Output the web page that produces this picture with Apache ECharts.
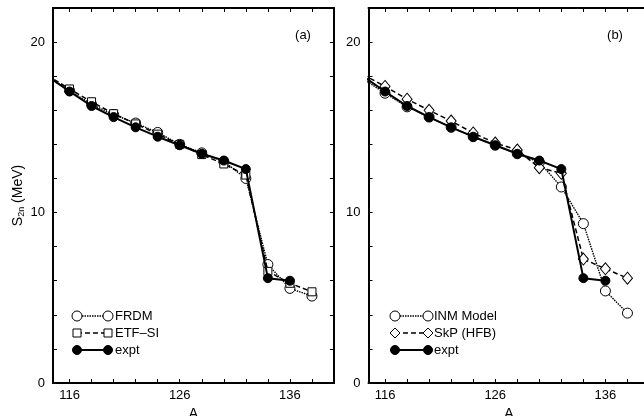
<!DOCTYPE html>
<html>
<head>
<meta charset="utf-8">
<script src="https://cdn.jsdelivr.net/npm/echarts@6/dist/echarts.min.js"></script>
<style>
html,body{margin:0;padding:0;background:#fff;}
#chart{width:644px;height:416px;}
</style>
</head>
<body>
<div id="chart"></div>
<script>
// Mass number A (even isotopes)
const massA = [114, 116, 118, 120, 122, 124, 126, 128, 130, 132, 134, 136, 138];
// Experimental S2n (MeV)
const expt  = [18.0, 17.1, 16.25, 15.6, 15.0, 14.45, 13.95, 13.45, 13.05, 12.55, 6.15, 6.0, null];
// Panel (a)
const frdm  = [17.95, 17.15, 16.35, 15.75, 15.25, 14.7, 14.0, 13.5, 13.0, 12.0, 6.95, 5.55, 5.1];
const etfsi = [18.05, 17.25, 16.5, 15.8, 15.2, 14.6, 14.0, 13.4, 12.85, 12.2, 6.55, 5.85, 5.35];
// Panel (b)
const inm   = [17.85, 17.0, 16.2, 15.6, 15.0, 14.45, 13.95, 13.45, 12.95, 11.5, 9.35, 5.4, 4.1];
const skp   = [18.1, 17.4, 16.65, 16.0, 15.37, 14.67, 14.08, 13.67, 12.63, 12.3, 7.27, 6.7, 6.15];
// Axis ticks
const xTickLabels = [116, 126, 136];
const xMinorTicks = [116, 118, 120, 122, 124, 126, 128, 130, 132, 134, 136, 138];
const yTickLabels = [0, 10, 20];

const FONT = "'Liberation Sans', Arial, Helvetica, sans-serif";
const pairs = arr => massA.map((a, i) => [a, arr[i]]);

const chart = echarts.init(document.getElementById('chart'), null, {renderer: 'canvas'});

function xAxes(gi) {
  const common = {
    type: 'value', gridIndex: gi, min: 114.5, max: 140,
    splitLine: {show: false},
    axisLine: {show: true, onZero: false, lineStyle: {color: '#000', width: 2}},
    axisTick: {show: true, inside: true, length: 4, customValues: xMinorTicks, lineStyle: {color: '#000', width: 1}}
  };
  return [
    Object.assign({}, common, {
      position: 'bottom',
      name: 'A', nameLocation: 'middle', nameGap: 19,
      nameTextStyle: {fontFamily: FONT, fontSize: 14, color: '#000'},
      axisLabel: {show: true, customValues: xTickLabels, margin: 6, fontFamily: FONT, fontSize: 13, color: '#000'}
    }),
    Object.assign({}, common, {position: 'top', axisLabel: {show: false}})
  ];
}
function yAxes(gi, withName) {
  const common = {
    type: 'value', gridIndex: gi, min: 0, max: 22, interval: 2,
    splitLine: {show: false},
    axisLine: {show: true, onZero: false, lineStyle: {color: '#000', width: 2}},
    axisTick: {show: true, inside: true, length: 4, lineStyle: {color: '#000', width: 1}}
  };
  const left = Object.assign({}, common, {
    position: 'left',
    axisLabel: {show: true, margin: 8, fontFamily: FONT, fontSize: 13, color: '#000',
      formatter: v => (yTickLabels.indexOf(v) >= 0 ? String(v) : '')}
  });
  if (withName) {
    Object.assign(left, {
      name: 'S{sub|2n} (MeV)', nameLocation: 'middle', nameGap: 27, nameRotate: 90,
      nameTextStyle: {fontFamily: FONT, fontSize: 14, color: '#000',
        rich: {sub: {fontFamily: FONT, fontSize: 9, color: '#000', verticalAlign: 'bottom', padding: [6, 0, 0, 0]}}}
    });
  }
  return [left, Object.assign({}, common, {position: 'right', axisLabel: {show: false}})];
}

const styles = {
  dotted: {lineStyle: {color: '#000', width: 1.4, type: [1.5, 1]}, symbol: 'circle', symbolSize: 10,
           itemStyle: {color: '#fff', borderColor: '#000', borderWidth: 1}},
  square: {lineStyle: {color: '#000', width: 1.5, type: [5, 3]}, symbol: 'rect', symbolSize: 8,
           itemStyle: {color: '#fff', borderColor: '#000', borderWidth: 1}},
  diamond:{lineStyle: {color: '#000', width: 1.5, type: [5, 3]}, symbol: 'diamond', symbolSize: [10, 12],
           itemStyle: {color: '#fff', borderColor: '#000', borderWidth: 1}},
  filled: {lineStyle: {color: '#000', width: 2}, symbol: 'circle', symbolSize: 9,
           itemStyle: {color: '#000', borderColor: '#000', borderWidth: 1}}
};
function series(name, arr, st, gi, z) {
  return Object.assign({
    type: 'line', name: name, data: pairs(arr), xAxisIndex: gi * 2, yAxisIndex: gi * 2,
    clip: true, showSymbol: true, showAllSymbol: true, animation: false, z: z,
    connectNulls: false, emphasis: {disabled: true}
  }, JSON.parse(JSON.stringify(st)));
}

// legend graphics
function legendRow(x1, x2, tx, y, label, kind) {
  const els = [];
  const ls = kind === 'dotted' ? [1.5, 1] : kind === 'filled' ? null : [5, 3];
  els.push({type: 'line', shape: {x1: x1, y1: y, x2: x2, y2: y},
            style: {stroke: '#000', lineWidth: kind === 'filled' ? 2 : 1.5, lineDash: ls}, z: 10});
  [x1, x2].forEach(cx => {
    if (kind === 'dotted') els.push({type: 'circle', shape: {cx: cx, cy: y, r: 5}, style: {fill: '#fff', stroke: '#000', lineWidth: 1}, z: 11});
    else if (kind === 'filled') els.push({type: 'circle', shape: {cx: cx, cy: y, r: 4.5}, style: {fill: '#000', stroke: '#000', lineWidth: 1}, z: 11});
    else if (kind === 'square') els.push({type: 'rect', shape: {x: cx - 4, y: y - 4, width: 8, height: 8}, style: {fill: '#fff', stroke: '#000', lineWidth: 1}, z: 11});
    else els.push({type: 'polygon', shape: {points: [[cx, y - 5], [cx + 5, y], [cx, y + 5], [cx - 5, y]]}, style: {fill: '#fff', stroke: '#000', lineWidth: 1}, z: 11});
  });
  els.push({type: 'text', x: tx, y: y, style: {text: label, fill: '#000', font: '13px ' + FONT, verticalAlign: 'middle', align: 'left'}, z: 11});
  return els;
}

const graphics = [].concat(
  legendRow(77, 108, 115, 316, 'FRDM', 'dotted'),
  legendRow(77, 108, 115, 333, 'ETF\u2013SI', 'square'),
  legendRow(77, 108, 115, 350, 'expt', 'filled'),
  legendRow(395, 428, 434, 316, 'INM Model', 'dotted'),
  legendRow(395, 428, 434, 333, 'SkP (HFB)', 'diamond'),
  legendRow(395, 428, 434, 350, 'expt', 'filled'),
  [
    {type: 'text', x: 303, y: 35, style: {text: '(a)', fill: '#000', font: '13px ' + FONT, align: 'center', verticalAlign: 'middle'}},
    {type: 'text', x: 615, y: 35, style: {text: '(b)', fill: '#000', font: '13px ' + FONT, align: 'center', verticalAlign: 'middle'}}
  ]
);

chart.setOption({
  backgroundColor: '#fff',
  animation: false,
  grid: [
    {left: 53, top: 8, width: 281, height: 375, containLabel: false, outerBoundsMode: 'none'},
    {left: 368.5, top: 8, width: 281, height: 375, containLabel: false, outerBoundsMode: 'none'}
  ],
  xAxis: [].concat(xAxes(0), xAxes(1)),
  yAxis: [].concat(yAxes(0, true), yAxes(1, false)),
  series: [
    series('FRDM', frdm, styles.dotted, 0, 2),
    series('ETF-SI', etfsi, styles.square, 0, 3),
    series('expt', expt, styles.filled, 0, 4),
    series('INM Model', inm, styles.dotted, 1, 2),
    series('SkP (HFB)', skp, styles.diamond, 1, 3),
    series('expt', expt, styles.filled, 1, 4)
  ],
  graphic: graphics
});
</script>
</body>
</html>
